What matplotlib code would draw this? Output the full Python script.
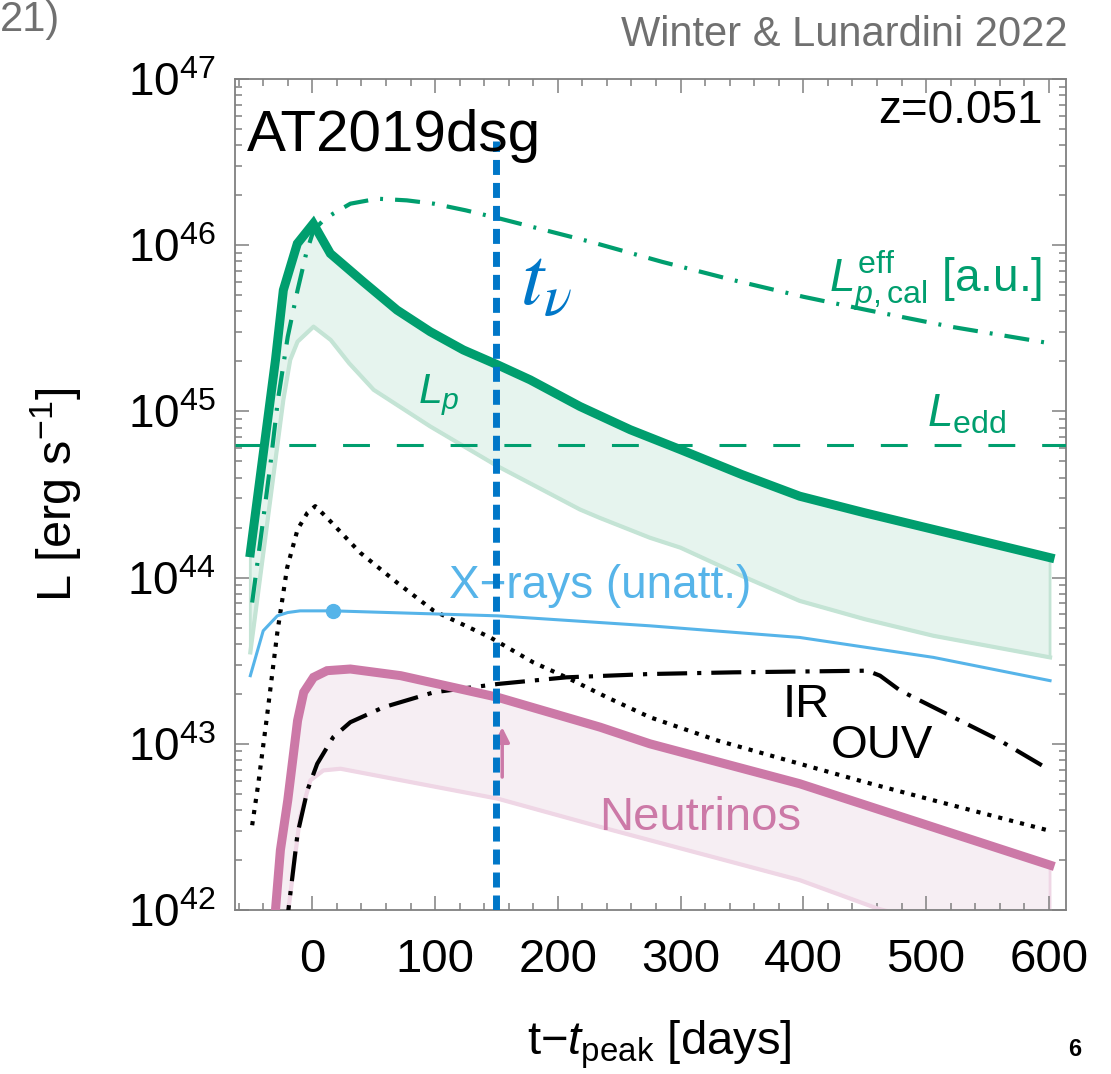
import matplotlib
matplotlib.use("Agg")
import matplotlib.pyplot as plt
import numpy as np
from matplotlib.ticker import MultipleLocator, LogLocator, LogFormatterMathtext

plt.rcParams["font.family"] = ["Liberation Sans", "DejaVu Sans"]
plt.rcParams["mathtext.fontset"] = "custom"
plt.rcParams["mathtext.rm"] = "Liberation Sans"
plt.rcParams["mathtext.it"] = "Liberation Sans:italic"
plt.rcParams["mathtext.bf"] = "Liberation Sans:bold"
plt.rcParams["mathtext.sf"] = "Liberation Sans"

# --- data (t - t_peak in days, log10 L in erg/s) ---
t_lp_hi = [-50.5, -30, -23.6, -12.2, 0.8, 14.7, 41.5, 69, 96, 123, 151, 177.5, 218, 259,
           300, 350, 397, 450, 506, 601]
lp_hi = [44.15, 45.31, 45.73, 46.01, 46.13, 45.95, 45.78, 45.61, 45.48, 45.37, 45.28, 45.19,
         45.03, 44.89, 44.77, 44.62, 44.49, 44.39, 44.29, 44.12]

t_lp_lo = [-50.5, -23.6, -18, -12, 1, 15, 30, 50, 96, 151, 218, 234, 275, 300, 350, 397,
           450, 506, 601]
lp_lo = [43.55, 45.07, 45.31, 45.42, 45.51, 45.43, 45.29, 45.13, 44.91, 44.67, 44.41, 44.36,
         44.24, 44.18, 44.01, 43.86, 43.75, 43.65, 43.52]

t_cal = [-49, -40, -34, -28, -20, -12, -5, 1, 9, 17, 31, 53, 77, 99, 125, 153, 190, 227,
         285, 343, 400, 452, 520, 601]
lp_cal = [43.85, 44.35, 44.69, 45.07, 45.45, 45.73, 45.95, 46.09, 46.15, 46.19, 46.25, 46.28,
          46.27, 46.25, 46.21, 46.16, 46.09, 46.02, 45.90, 45.79, 45.69, 45.61, 45.51, 45.41]

log_ledd = 44.80

t_nu_hi = [-35, -30, -26, -20, -12, -7, 1, 12, 31, 72, 151, 234.5, 275, 397, 601]
nu_hi = [41.7, 42.0, 42.36, 42.66, 43.14, 43.31, 43.40, 43.44, 43.45, 43.41, 43.28, 43.10,
         43.00, 42.76, 42.27]

t_nu_lo = [-23, -19.5, -10, -1.6, 9, 23, 151, 234.5, 275, 397, 460, 601]
nu_lo = [41.8, 42.0, 42.56, 42.78, 42.84, 42.85, 42.67, 42.50, 42.42, 42.18, 42.01, 41.72]

t_xray = [-50.5, -40, -28.5, -20, -10, 17, 151, 275, 397, 506, 601]
xray = [43.41, 43.68, 43.77, 43.79, 43.80, 43.80, 43.77, 43.71, 43.64, 43.52, 43.38]
t_xpeak, xpeak = 17, 43.80

t_ouv = [-49, -44, -37, -28.5, -20.5, -12, -4, 2.4, 12, 39, 69, 99, 145, 180, 207, 240,
         275, 330, 397, 450, 506, 599]
ouv = [42.51, 42.76, 43.16, 43.67, 44.06, 44.29, 44.39, 44.43, 44.36, 44.15, 43.97, 43.80,
       43.64, 43.49, 43.40, 43.28, 43.16, 43.02, 42.88, 42.77, 42.66, 42.48]

t_ir = [-22, -19.5, -12, -4, 4, 17, 31, 58, 99, 151, 207, 275, 343, 452, 462.5, 479, 506,
        560, 599]
ir = [41.85, 42.0, 42.46, 42.72, 42.88, 43.04, 43.13, 43.22, 43.31, 43.36, 43.40, 43.42,
      43.43, 43.44, 43.41, 43.32, 43.22, 43.02, 42.85]

t_nu_event = 150
log_tnu_top = 46.63
arrow_t = 154.7
arrow_from, arrow_to = 42.80, 43.10

green = "#009e6e"
green_line_light = "#c4e4d5"
green_fill = "#e6f4ee"
pink = "#cc79a7"
pink_line_light = "#efd6e5"
pink_fill = "#f6eef3"
xcol = "#56b4e9"
tnu_col = "#0077c8"
gray = "#707070"
axcol = "#808080"


def lum(v):
    return 10.0 ** np.asarray(v)


fig = plt.figure(figsize=(11.11, 10.74), dpi=100)
ax = fig.add_axes([0.2115, 0.1527, 0.748, 0.7737])
ax.set_yscale("log")

# proton luminosity band
ax.fill(np.r_[t_lp_hi, t_lp_lo[::-1]], lum(np.r_[lp_hi, lp_lo[::-1]]),
        facecolor=green_fill, edgecolor=green_line_light, lw=2, zorder=1)
ax.plot(t_lp_lo, lum(lp_lo), color=green_line_light, lw=3, zorder=2)

# neutrino band
ax.fill(np.r_[t_nu_hi, t_nu_lo[::-1]], lum(np.r_[nu_hi, nu_lo[::-1]]),
        facecolor=pink_fill, edgecolor=pink_line_light, lw=2, zorder=1)
ax.plot(t_nu_lo, lum(nu_lo), color=pink_line_light, lw=3, zorder=2)

# Eddington luminosity
ax.axhline(10 ** log_ledd, color=green, lw=2.2, dashes=(8.8, 8.8), zorder=3)

# OUV and IR
ax.plot(t_ouv, lum(ouv), color="black", lw=3, dashes=(1, 1.7), zorder=3)
ax.plot(t_ir, lum(ir), color="black", lw=3, dashes=(7.2, 2.4, 1, 2.4), zorder=3)

# X-rays
ax.plot(t_xray, lum(xray), color=xcol, lw=2.2, zorder=4)
ax.plot(t_xpeak, 10 ** xpeak, "o", color=xcol, ms=10, zorder=4)

# calorimetric proton luminosity
ax.plot(t_cal, lum(lp_cal), color=green, lw=3, dashes=(6, 2.9, 0.7, 2.9), zorder=4)

# thick curves
ax.plot(t_nu_hi, lum(nu_hi), color=pink, lw=6.5, solid_joinstyle="miter", zorder=5)
ax.plot(t_lp_hi, lum(lp_hi), color=green, lw=6.5, solid_joinstyle="miter", zorder=5)

# neutrino arrival time
ax.plot([t_nu_event, t_nu_event], [1e42, 10 ** log_tnu_top], color=tnu_col, lw=5,
        dashes=(2.16, 1.15), zorder=7)
ax.annotate("", xy=(arrow_t, 10 ** arrow_to), xytext=(arrow_t, 10 ** arrow_from),
            arrowprops=dict(arrowstyle="-|>", color=pink, lw=2.5, mutation_scale=22,
                            shrinkA=0, shrinkB=0), zorder=6)

# labels inside the plot
ax.text(-53, 10 ** 46.57, "AT2019dsg", fontsize=42, ha="left", va="baseline", zorder=8)
ax.text(595, 10 ** 46.735, "z=0.051", fontsize=33, ha="right", va="baseline", zorder=8)
ax.text(169, 10 ** 45.64, r"$t_\nu$", fontsize=60, color=tnu_col, ha="left",
        va="baseline", math_fontfamily="stix", zorder=8)
ax.text(421, 10 ** 45.72, r"$L_{p,\mathrm{cal}}^{\mathrm{eff}}$ [a.u.]", fontsize=33,
        color=green, ha="left", va="baseline", zorder=8)
ax.text(501, 10 ** 44.91, r"$L_{\mathrm{edd}}$", fontsize=33, color=green, ha="left",
        va="baseline", zorder=8)
ax.text(86, 10 ** 45.05, r"$L_p$", fontsize=31, color=green, ha="left", va="baseline",
        zorder=8)
ax.text(111, 10 ** 43.88, "X\u2212rays (unatt.)", fontsize=33, color=xcol, ha="left",
        va="baseline", zorder=6)
ax.text(383, 10 ** 43.16, "IR", fontsize=34, ha="left", va="baseline", zorder=8)
ax.text(422, 10 ** 42.915, "OUV", fontsize=34, ha="left", va="baseline", zorder=8)
ax.text(234, 10 ** 42.48, "Neutrinos", fontsize=34, color=pink, ha="left",
        va="baseline", zorder=8)

# axes styling
ax.set_xlim(-63, 614)
ax.set_ylim(1e42, 1e47)
ax.xaxis.set_major_locator(MultipleLocator(100))
ax.xaxis.set_minor_locator(MultipleLocator(20))
ax.yaxis.set_major_locator(LogLocator(base=10, numticks=10))
ax.yaxis.set_minor_locator(LogLocator(base=10, subs=np.arange(2, 10), numticks=20))
ax.yaxis.set_major_formatter(LogFormatterMathtext())
ax.tick_params(which="both", direction="in", top=True, right=True, color=axcol, width=1.1)
ax.tick_params(which="major", length=10)
ax.tick_params(which="minor", length=5)
ax.tick_params(axis="x", which="major", labelsize=34, pad=20)
ax.tick_params(axis="y", which="major", labelsize=33, pad=14)
for sp in ax.spines.values():
    sp.set_color(axcol)
    sp.set_linewidth(1.3)

ax.set_xlabel(r"t$-t_{\mathrm{peak}}$ [days]", fontsize=34)
ax.xaxis.set_label_coords(0.511, -0.162)
ax.xaxis.label.set_va("center")
ax.set_ylabel(r"L [erg s$^{-1}$]", fontsize=35)
ax.yaxis.set_label_coords(-0.215, 0.50)
ax.yaxis.label.set_va("center")

# slide decorations
fig.text(1068 / 1111, 1 - 35 / 1074, "Winter & Lunardini 2022", fontsize=30, color=gray,
         ha="right", va="center")
fig.text(0.0, 1.0, "21)", fontsize=30, color=gray, ha="left", va="top")
fig.text(1075 / 1111, 1 - 1050 / 1074, "6", fontsize=17, fontweight="bold", ha="center",
         va="center")

fig.savefig("out.png", dpi=100)
